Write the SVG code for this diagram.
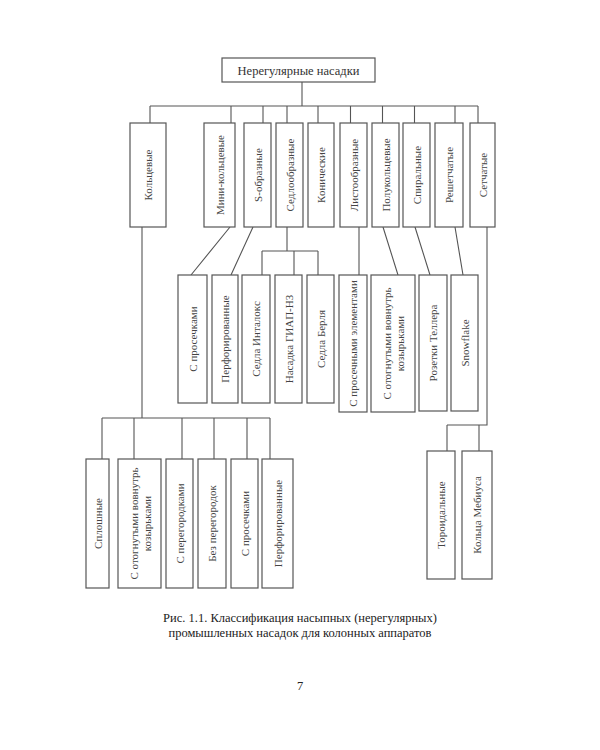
<svg xmlns="http://www.w3.org/2000/svg" width="600" height="750" viewBox="0 0 600 750">
<style>
.box{fill:#fff;stroke:#555;stroke-width:1.2}
.ln{fill:none;stroke:#555;stroke-width:1.1}
.t{font-family:'Liberation Serif','DejaVu Serif',serif;font-size:11px;fill:#444;text-anchor:middle}
.ttl{font-family:'Liberation Serif','DejaVu Serif',serif;font-size:12.5px;fill:#333;text-anchor:middle}
.cap{font-family:'Liberation Serif','DejaVu Serif',serif;font-size:12.5px;fill:#222;text-anchor:middle}
</style>
<rect width="600" height="750" fill="#fff"/>
<g id="connectors" class="ln">
<path d="M302 82V106M150 106H478M150 106V123M231 106V123M263 106V123M287 106V123M318 106V123M350.5 106V123M382.5 106V123M414.5 106V123M455 106V123M478 106V123"/>
<path d="M142 227V418M102 418H270M102 418V459M134 418V459M182 418V459M214 418V459M247 418V459M270 418V459"/>
<path d="M230 227L191 275M253 227L231 275"/>
<path d="M287 227V251M262 251H318M262 251V275M294 251V275M318 251V275"/>
<path d="M359 227V275M383 227L398 275M415 227L430 275M455 227L463 275"/>
<path d="M487 227V425H447M447 425V451M479 425V451"/>
</g>
<g id="root"><rect class="box" x="222" y="58" width="153" height="24"/><text class="ttl" x="298.5" y="74.5">Нерегулярные насадки</text></g>
<g id="n-kolts"><rect class="box" x="130" y="123" width="36" height="104"/><text class="t" transform="translate(148 175) rotate(-90)" dy="4">Кольцевые</text></g>
<g id="n-mini"><rect class="box" x="204" y="123" width="31" height="104"/><text class="t" transform="translate(219.5 175) rotate(-90)" dy="4">Мини-кольцевые</text></g>
<g id="n-s"><rect class="box" x="244" y="123" width="27" height="104"/><text class="t" transform="translate(257.5 175) rotate(-90)" dy="4">S-образные</text></g>
<g id="n-sedlo"><rect class="box" x="276" y="123" width="27" height="104"/><text class="t" transform="translate(289.5 175) rotate(-90)" dy="4">Седлообразные</text></g>
<g id="n-kon"><rect class="box" x="308" y="123" width="26" height="104"/><text class="t" transform="translate(321 175) rotate(-90)" dy="4">Конические</text></g>
<g id="n-list"><rect class="box" x="340" y="123" width="27" height="104"/><text class="t" transform="translate(353.5 175) rotate(-90)" dy="4">Листообразные</text></g>
<g id="n-polu"><rect class="box" x="372" y="123" width="27" height="104"/><text class="t" transform="translate(385.5 175) rotate(-90)" dy="4">Полукольцевые</text></g>
<g id="n-spir"><rect class="box" x="403" y="123" width="27" height="104"/><text class="t" transform="translate(416.5 175) rotate(-90)" dy="4">Спиральные</text></g>
<g id="n-resh"><rect class="box" x="435" y="123" width="28" height="104"/><text class="t" transform="translate(449 175) rotate(-90)" dy="4">Решетчатые</text></g>
<g id="n-set"><rect class="box" x="470" y="123" width="25" height="104"/><text class="t" transform="translate(482.5 175) rotate(-90)" dy="4">Сетчатые</text></g>
<g id="n-prosech1"><rect class="box" x="178" y="275" width="29" height="128"/><text class="t" transform="translate(192.5 339) rotate(-90)" dy="4">С просечками</text></g>
<g id="n-perf1"><rect class="box" x="212" y="275" width="26" height="128"/><text class="t" transform="translate(225 339) rotate(-90)" dy="4">Перфорированные</text></g>
<g id="n-intalox"><rect class="box" x="242" y="275" width="28" height="128"/><text class="t" transform="translate(256 339) rotate(-90)" dy="4">Седла Инталокс</text></g>
<g id="n-giap"><rect class="box" x="275" y="275" width="27" height="128"/><text class="t" transform="translate(288.5 339) rotate(-90)" dy="4">Насадка ГИАП-НЗ</text></g>
<g id="n-berl"><rect class="box" x="307" y="275" width="27" height="128"/><text class="t" transform="translate(320.5 339) rotate(-90)" dy="4">Седла Берля</text></g>
<g id="n-prosel"><rect class="box" x="339" y="275" width="28" height="137"/><text class="t" transform="translate(353 343.5) rotate(-90)" dy="4">С просечными элементами</text></g>
<g id="n-otog1"><rect class="box" x="371" y="275" width="44" height="137"/><text class="t" transform="translate(393 343.5) rotate(-90)"><tspan x="0" dy="-2">С отогнутыми вовнутрь</tspan><tspan x="0" dy="13">козырьками</tspan></text></g>
<g id="n-teller"><rect class="box" x="419" y="275" width="28" height="136"/><text class="t" transform="translate(433 343) rotate(-90)" dy="4">Розетки Теллера</text></g>
<g id="n-snow"><rect class="box" x="451" y="275" width="27" height="136"/><text class="t" transform="translate(464.5 343) rotate(-90)" dy="4">Snowflake</text></g>
<g id="n-splosh"><rect class="box" x="86" y="459" width="23" height="129"/><text class="t" transform="translate(97.5 523.5) rotate(-90)" dy="4">Сплошные</text></g>
<g id="n-otog2"><rect class="box" x="118" y="459" width="43" height="129"/><text class="t" transform="translate(139.5 523.5) rotate(-90)"><tspan x="0" dy="-2">С отогнутыми вовнутрь</tspan><tspan x="0" dy="13">козырьками</tspan></text></g>
<g id="n-peregor"><rect class="box" x="166" y="459" width="27" height="129"/><text class="t" transform="translate(179.5 523.5) rotate(-90)" dy="4">С перегородками</text></g>
<g id="n-bezper"><rect class="box" x="198" y="459" width="28" height="129"/><text class="t" transform="translate(212 523.5) rotate(-90)" dy="4">Без перегородок</text></g>
<g id="n-prosech2"><rect class="box" x="231" y="459" width="27" height="129"/><text class="t" transform="translate(244.5 523.5) rotate(-90)" dy="4">С просечками</text></g>
<g id="n-perf2"><rect class="box" x="262" y="459" width="31" height="129"/><text class="t" transform="translate(277.5 523.5) rotate(-90)" dy="4">Перфорированные</text></g>
<g id="n-toroid"><rect class="box" x="427" y="451" width="28" height="128"/><text class="t" transform="translate(441 515) rotate(-90)" dy="4">Тороидальные</text></g>
<g id="n-mebius"><rect class="box" x="462" y="451" width="30" height="128"/><text class="t" transform="translate(477 515) rotate(-90)" dy="4">Кольца Мебиуса</text></g>
<g id="caption">
<text class="cap" x="300" y="622">Рис. 1.1. Классификация насыпных (нерегулярных)</text>
<text class="cap" x="300" y="637">промышленных насадок для колонных аппаратов</text>
<text class="cap" x="300" y="690" font-size="13">7</text>
</g>
</svg>
